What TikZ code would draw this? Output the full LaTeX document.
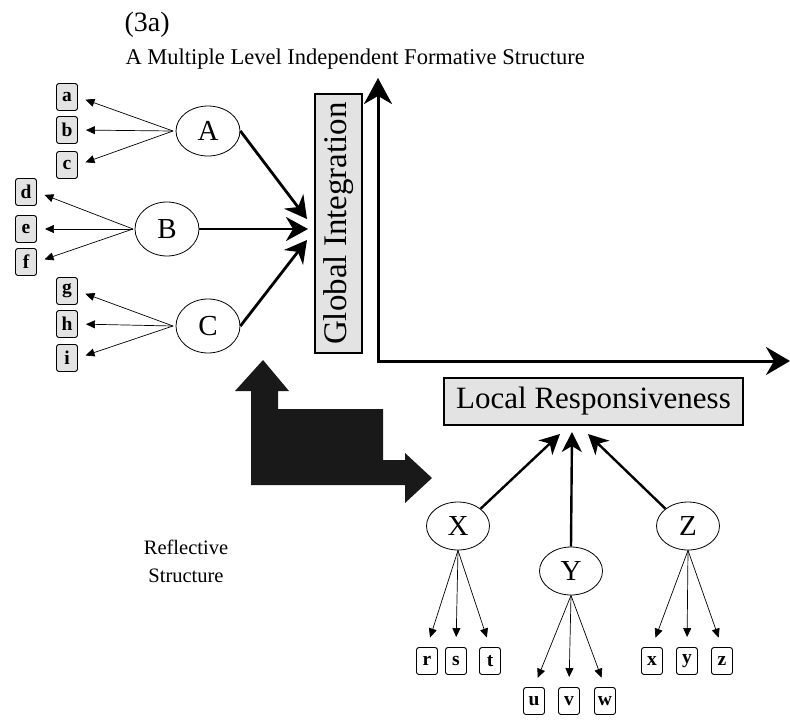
\documentclass[tikz,border=0pt]{standalone}
\usepackage{fontspec}
\setmainfont{Liberation Serif}
\usetikzlibrary{arrows.meta,shapes.geometric}
\tikzset{
  leafbox/.style={draw, rounded corners=2.5pt, fill=gray!22, minimum width=21pt,
    minimum height=27pt, inner sep=0pt, line width=0.9pt,
    font=\fontsize{19.5}{19.5}\selectfont\bfseries},
  leafwhite/.style={leafbox, fill=white},
  factor/.style={draw, ellipse, fill=white, minimum width=64pt, minimum height=50pt,
    inner sep=0pt, line width=0.8pt, font=\fontsize{29}{29}\selectfont},
  fanarrow/.style={-{Triangle[length=9pt,width=8pt]}, line width=0.7pt},
  mainarrow/.style={-{Stealth[length=22pt,width=24pt,inset=7pt]}, line width=2.8pt},
  axisarrow/.style={line width=3pt},
  dimbox/.style={draw, fill=gray!22, line width=1.1pt, inner sep=0pt},
}
\begin{document}
\begin{tikzpicture}[x=1pt,y=-1pt]
\useasboundingbox (0,0) rectangle (790,720);

% headings
\node[anchor=west, font=\fontsize{28}{28}\selectfont] (tag) at (121,25) {(3a)};
\node[anchor=west, font=\fontsize{22.5}{24}\selectfont] (title) at (122,59)
  {A Multiple Level Independent Formative Structure};

% axes
\coordinate (O) at (378,361);
\coordinate (yT) at (378,78);
\coordinate (xT) at (790,361);
\draw[axisarrow, {Stealth[length=26pt,width=28pt,inset=8pt]}-{Stealth[length=24pt,width=28pt,inset=8pt]}]
  (yT) -- (O) -- (xT);

% dimension boxes
\node[dimbox, rotate=90, minimum width=259pt, minimum height=47pt,
  font=\fontsize{33}{33}\selectfont] (GI) at (338.5,223.5) {Global Integration};
\node[dimbox, minimum width=299pt, minimum height=47pt,
  font=\fontsize{31}{31}\selectfont] (LR) at (593.5,401.5) {Local Responsiveness};

% formative factors
\node[factor] (A) at (208,131) {A};
\node[factor, minimum height=54pt] (B) at (167,229) {B};
\node[factor, minimum height=54pt] (C) at (208,326) {C};

\node[leafbox] (la) at (67,97) {a};
\node[leafbox] (lb) at (67,130) {b};
\node[leafbox] (lc) at (67,165) {c};
\node[leafbox] (ld) at (26,192) {d};
\node[leafbox] (le) at (26,229) {e};
\node[leafbox] (lf) at (26,262) {f};
\node[leafbox] (lg) at (67,291) {g};
\node[leafbox] (lh) at (67,324) {h};
\node[leafbox] (li) at (67,358) {i};

\coordinate (Ao) at (173,131);
\coordinate (Bo) at (133,229);
\coordinate (Co) at (173,326);
\foreach \s/\t in {Ao/la,Ao/lb,Ao/lc,Bo/ld,Bo/le,Bo/lf,Co/lg,Co/lh,Co/li}
  \draw[fanarrow, shorten >=8pt] (\s) -- (\t.east);

\coordinate (gA) at (307,219);
\coordinate (gB) at (308,229);
\coordinate (gC) at (307,240);
\draw[mainarrow] (A.east) -- (gA);
\draw[mainarrow] (B.east) -- (gB);
\draw[mainarrow] (C.east) -- (gC);

% reflective factors
\node[factor, minimum width=63pt, minimum height=48pt] (X) at (458,526) {X};
\node[factor, minimum width=63pt, minimum height=48pt] (Y) at (571,571) {Y};
\node[factor, minimum width=63pt, minimum height=48pt] (Z) at (688,526) {Z};

\coordinate (lX) at (560,434);
\coordinate (lY) at (572,432);
\coordinate (lZ) at (588,434);
\draw[mainarrow, line width=2.4pt, {Stealth[length=20pt,width=20pt,inset=6pt]}-] (lX) -- (X.north east);
\draw[mainarrow, line width=2.4pt, {Stealth[length=20pt,width=20pt,inset=6pt]}-] (lY) -- (Y.north);
\draw[mainarrow, line width=2.4pt, {Stealth[length=20pt,width=20pt,inset=6pt]}-] (lZ) -- (Z.north west);

\node[leafwhite] (lr) at (427,661) {r};
\node[leafwhite] (ls) at (456,661) {s};
\node[leafwhite] (lt) at (490,661) {t};
\node[leafwhite] (lu) at (534,701) {u};
\node[leafwhite] (lv) at (569,701) {v};
\node[leafwhite] (lw) at (605,701) {w};
\node[leafwhite] (lx) at (652,661) {x};
\node[leafwhite] (ly) at (687,661) {y};
\node[leafwhite] (lz) at (722,661) {z};

\foreach \s/\t in {X/lr,X/ls,X/lt,Y/lu,Y/lv,Y/lw,Z/lx,Z/ly,Z/lz}
  \draw[fanarrow, shorten >=10pt] (\s.south) -- (\t.north);

% bent block arrow
\fill[black!90] (263,360) -- (289,391) -- (278,391) -- (278,409) -- (383,409)
  -- (383,460) -- (405,460) -- (405,453) -- (432,478) -- (405,503) -- (405,485)
  -- (251,485) -- (251,391) -- (235,391) -- cycle;

\node[align=center, font=\fontsize{20.5}{28}\selectfont] (refl) at (186,561)
  {Reflective\\Structure};
\end{tikzpicture}
\end{document}
